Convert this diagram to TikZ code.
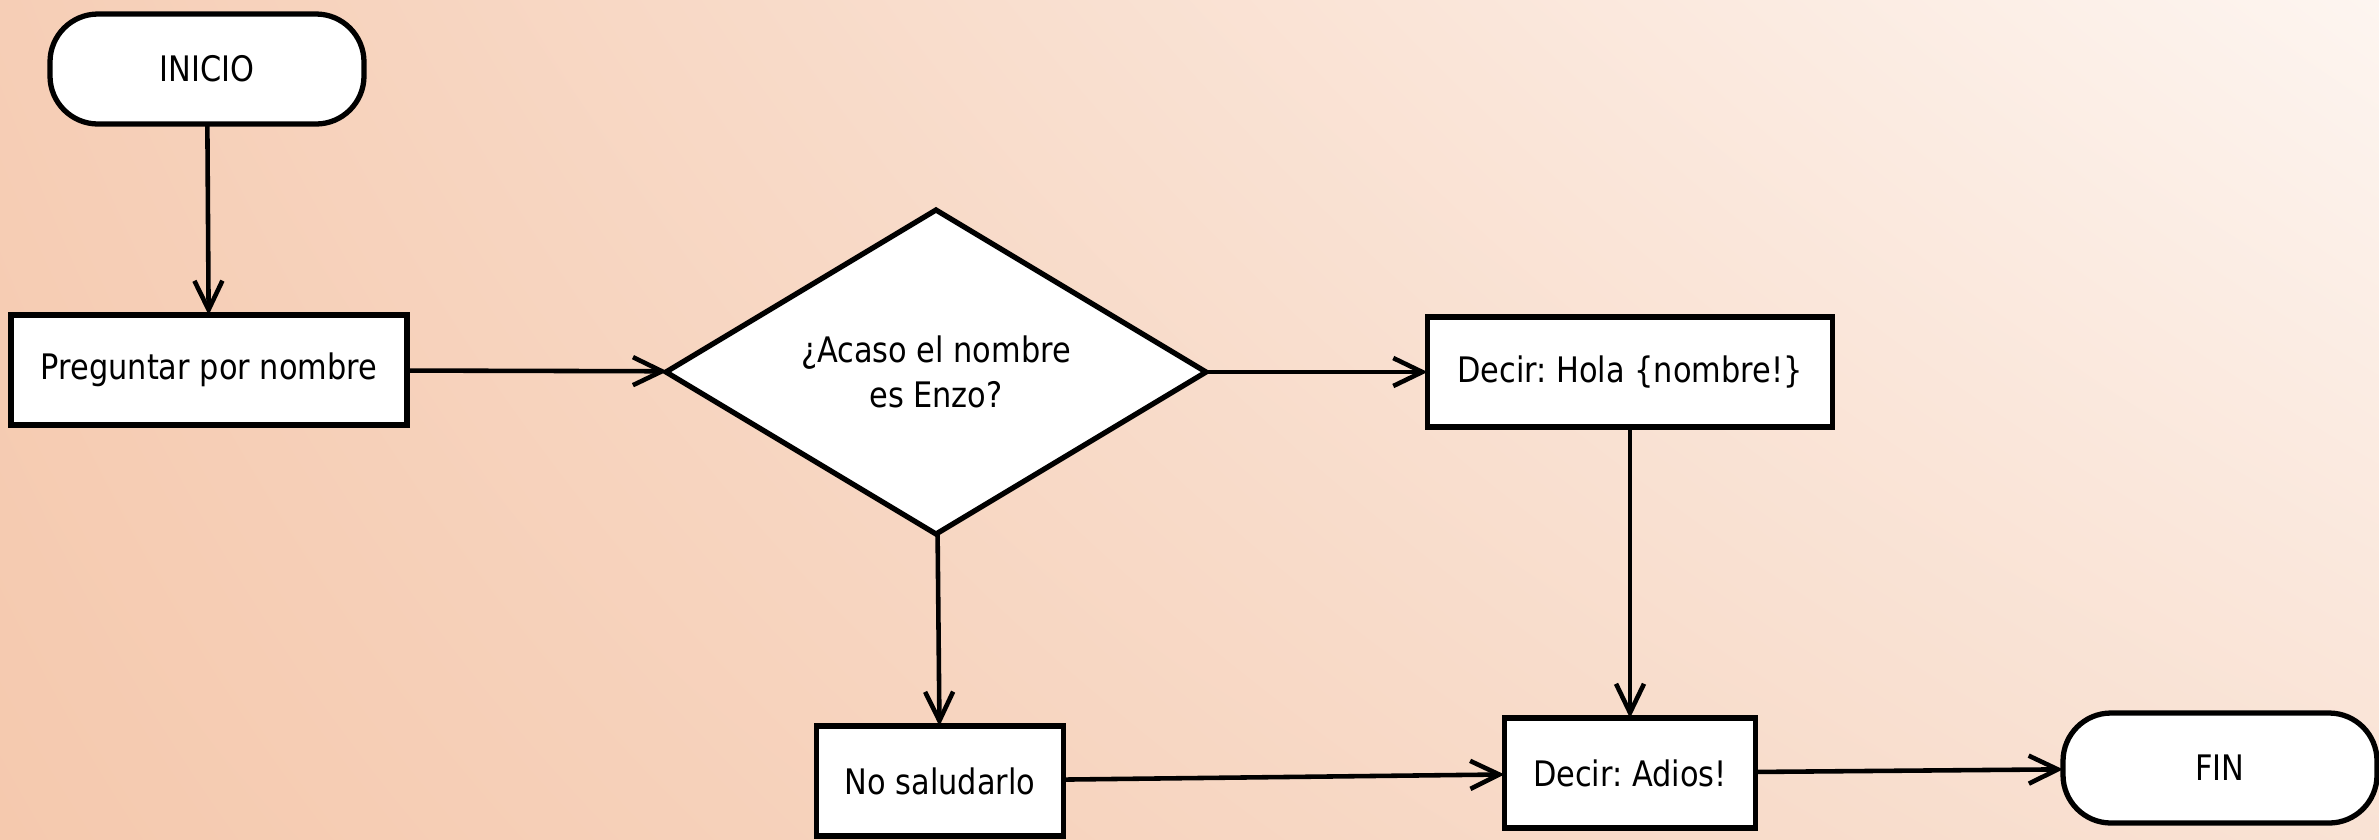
\documentclass[tikz,border=0pt]{standalone}
\usepackage{fontspec}
\setmainfont[FakeStretch=0.865]{DejaVu Sans}
\usepackage{tikz}
\usetikzlibrary{arrows.meta}
\usetikzlibrary{shapes.geometric}
\usetikzlibrary{shadings}
\definecolor{peachul}{RGB}{246,206,182}
\definecolor{peachll}{RGB}{245,201,174}
\definecolor{peachlr}{RGB}{249,226,212}
\definecolor{cream}{RGB}{253,245,240}
\tikzset{
	% Node styles for the flow chart: terminals, steps and the question
	term node/.style={draw,fill=white,line width=1.5pt,rounded corners=0.48cm,minimum width=3.14cm,minimum height=1.1cm,inner sep=0,outer sep=0},
	step node/.style={draw,fill=white,line width=1.5pt,minimum height=1.1cm,inner sep=0,outer sep=0},
	ask node/.style={diamond,draw,fill=white,line width=1.5pt,aspect=1.667,minimum width=5.4cm,minimum height=3.24cm,inner sep=0,outer sep=0,align=center},
	flow/.style={line width=1.3pt,-{Straight Barb[length=2.9mm,width=2.8mm,line width=1.3pt]}}
}

\begin{document}
\frenchspacing
\begin{tikzpicture}[font=\fontsize{10}{13}\selectfont]
			% Background
			\useasboundingbox (0,0) rectangle (23.79,-8.39);
			\shade[upper left=peachul,lower left=peachll,upper right=cream,lower right=peachlr] (0,0) rectangle (23.79,-8.39);
			
			% Nodes
			\node(0)[term node] at (2.07,-0.69) {INICIO};
			\node(0-1)[step node,minimum width=3.96cm] at (2.09,-3.70) {Preguntar por nombre};
			\node(1)[ask node] at (9.36,-3.72) {¿Acaso el nombre\\es Enzo?};
			\node(1-1)[step node,minimum width=4.05cm] at (16.30,-3.72) {Decir: Hola \{nombre!\}};
			\node(1-2)[step node,minimum width=2.47cm] at (9.40,-7.81) {No saludarlo};
			\node(2)[step node,minimum width=2.51cm] at (16.30,-7.73) {Decir: Adios!};
			\node(3)[term node] at (22.20,-7.68) {FIN};
			
			% Connectors
			\draw[flow] (0) -- (0-1);
			\draw[flow] (0-1) -- (1);
			\draw[flow] (1) -- (1-1);
			\draw[flow] (1) -- (1-2);
			\draw[flow] (1-1) -- (2);
			\draw[flow] (1-2) -- (2);
			\draw[flow] (2) -- (3);
		\end{tikzpicture}
\end{document}
